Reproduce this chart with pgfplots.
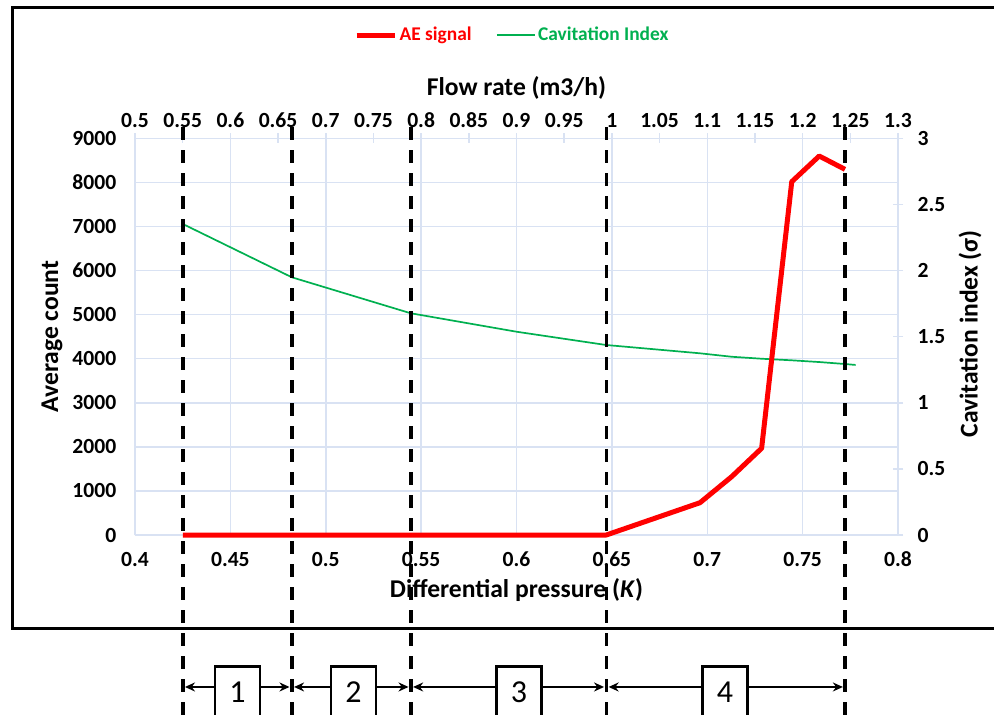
\documentclass[border=0pt]{standalone}
\usepackage{pgfplots}
\pgfplotsset{compat=1.18}
\usepackage{fontspec}
\setmainfont{Carlito}
\usetikzlibrary{arrows.meta}
\definecolor{gridblue}{RGB}{217,226,243}
\definecolor{aered}{RGB}{255,0,0}
\definecolor{cavgreen}{RGB}{0,176,80}

\begin{document}
\begin{tikzpicture}
\clip (0,0) rectangle (497pt,-357.5pt);
\fill[white] (0,0) rectangle (497pt,-357.5pt);
\draw[line width=1.5pt] (6pt,-4pt) rectangle (520pt,-314pt);

% ---------- axis 1: left / bottom scales and grid ----------
\begin{axis}[
  at={(67.5pt,-267.5pt)}, anchor=south west,
  scale only axis, width=381.5pt, height=198.35pt,
  xmin=0.4, xmax=0.8, ymin=0, ymax=9000,
  axis x line*=bottom, axis y line*=left,
  axis line style={draw=gridblue, line width=0.75pt},
  xtick={0.4,0.45,0.5,0.55,0.6,0.65,0.7,0.75,0.8},
  xticklabels={0.4,0.45,0.5,0.55,0.6,0.65,0.7,0.75,0.8},
  ytick={0,1000,2000,3000,4000,5000,6000,7000,8000,9000},
  yticklabels={0,1000,2000,3000,4000,5000,6000,7000,8000,9000},
  major tick length=0pt,
  grid=major, major grid style={draw=gridblue, line width=0.75pt},
  tick label style={font=\bfseries\fontsize{10.8}{12}\selectfont, inner sep=0pt},
  xticklabel style={anchor=north, yshift=-8.25pt},
  yticklabel style={anchor=east, xshift=-9.2pt},
  xlabel={Differential pressure (\textit{K})},
  ylabel={Average count},
  label style={font=\bfseries\fontsize{12.8}{15}\selectfont},
  xlabel style={at={(axis description cs:0.5,-0.1386)}, anchor=center},
  ylabel style={at={(axis description cs:-0.1088,0.5)}, anchor=center},
]
\end{axis}

% ---------- axis 2: top / right scales, cavitation index ----------
\begin{axis}[
  at={(67.5pt,-267.5pt)}, anchor=south west,
  scale only axis, width=381.5pt, height=198.35pt,
  xmin=0.4, xmax=0.8, ymin=0, ymax=3,
  axis x line*=top, axis y line*=right,
  axis line style={draw=gridblue, line width=0.75pt},
  xtick={0.4,0.425,0.45,0.475,0.5,0.525,0.55,0.575,0.6,0.625,0.65,0.675,0.7,0.725,0.75,0.775,0.8},
  xticklabels={0.5,0.55,0.6,0.65,0.7,0.75,0.8,0.85,0.9,0.95,1,1.05,1.1,1.15,1.2,1.25,1.3},
  ytick={0,0.5,1,1.5,2,2.5,3},
  yticklabels={0,0.5,1,1.5,2,2.5,3},
  tick align=center, major tick length=5pt,
  tick style={draw=gridblue, line width=0.75pt},
  tick label style={font=\bfseries\fontsize{10.8}{12}\selectfont, inner sep=0pt},
  xticklabel style={anchor=south, yshift=2.5pt},
  yticklabel style={anchor=west, xshift=7.15pt},
  xlabel={Flow rate (m3/h)},
  ylabel={Cavitation index (σ)},
  label style={font=\bfseries\fontsize{12.8}{15}\selectfont},
  xlabel style={at={(axis description cs:0.5,1.1268)}, anchor=center},
  ylabel style={at={(axis description cs:1.0944,0.507)}, anchor=center},
  clip=false,
]
\addplot[cavgreen, line width=0.85pt, line join=round] coordinates {
  (0.4262,2.344) (0.4822,1.949) (0.5445,1.677) (0.6001,1.537) (0.6469,1.437)
  (0.6962,1.374) (0.7128,1.348) (0.7285,1.333) (0.7443,1.321) (0.7587,1.308)
  (0.7722,1.293) (0.7778,1.286)
};
\end{axis}

% ---------- axis 3: AE signal, zone markers, legend ----------
\begin{axis}[
  at={(67.5pt,-267.5pt)}, anchor=south west,
  scale only axis, width=381.5pt, height=198.35pt,
  xmin=0.4, xmax=0.8, ymin=0, ymax=9000,
  axis lines=none, xtick=\empty, ytick=\empty,
  clip=false,
  legend columns=2,
  legend style={at={(axis description cs:0.4948,1.2604)}, anchor=center,
    draw=none, fill=none, inner sep=0pt,
    font=\bfseries\fontsize{9.7}{11}\selectfont,
    nodes={inner sep=1.2pt},
    /tikz/every even column/.append style={column sep=11pt}},
  legend image code/.code={\draw[#1] (0pt,0pt) -- (19pt,0pt);},
]
\addplot[aered, line width=2.5pt, line join=round] coordinates {
  (0.42506,0) (0.48220,0) (0.54459,0) (0.64707,0) (0.6962,733) (0.7128,1323)
  (0.7285,1967) (0.7443,8015) (0.7587,8598) (0.7722,8296)
};
\addlegendentry{\textcolor{aered}{AE signal}}
\addlegendimage{cavgreen, line width=0.85pt}
\addlegendentry{\textcolor{cavgreen}{Cavitation Index}}

\pgfplotsset{dashzone/.style={forget plot, black, line width=1.7pt, dash pattern=on 6.25pt off 5.25pt}}
\addplot[dashzone] coordinates {(0.42506,9250) (0.42506,-4400)};
\addplot[dashzone] coordinates {(0.48220,9250) (0.48220,-4400)};
\addplot[dashzone] coordinates {(0.54459,9250) (0.54459,-4400)};
\addplot[dashzone] coordinates {(0.64707,9250) (0.64707,-4400)};
\addplot[dashzone] coordinates {(0.77227,9250) (0.77227,-4400)};

\tikzset{zarrow/.style={{Stealth[length=5pt,width=4.5pt]}-{Stealth[length=5pt,width=4.5pt]}, line width=1.4pt},
  zbox/.style={draw, line width=1.4pt, fill=white, minimum width=22.5pt, minimum height=26pt, anchor=north, inner sep=0pt, font=\fontsize{16}{18}\selectfont}}
\draw[zarrow] (axis cs:0.4262,-3448) -- (axis cs:0.4810,-3448);
\draw[zarrow] (axis cs:0.4834,-3448) -- (axis cs:0.5434,-3448);
\draw[zarrow] (axis cs:0.5458,-3448) -- (axis cs:0.6459,-3448);
\draw[zarrow] (axis cs:0.6483,-3448) -- (axis cs:0.7711,-3448);
\node[zbox] at (axis cs:0.45374,-2949) {1};
\node[zbox] at (axis cs:0.51455,-2949) {2};
\node[zbox] at (axis cs:0.60131,-2949) {3};
\node[zbox] at (axis cs:0.70931,-2949) {4};
\end{axis}
\end{tikzpicture}
\end{document}
